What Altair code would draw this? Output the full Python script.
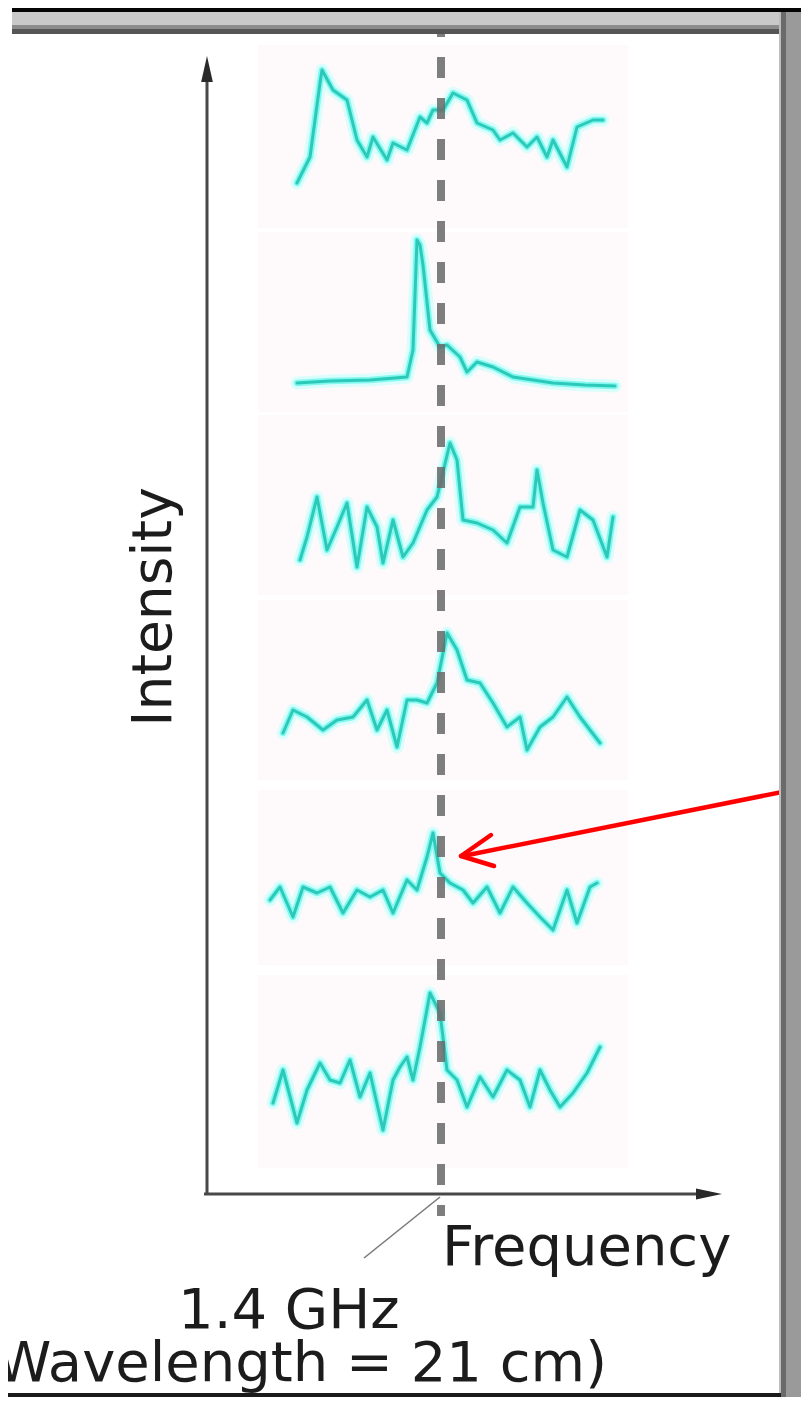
import altair as alt
import pandas as pd

# ---------------- data ----------------
# Frequency offsets (relative to the 1.4 GHz line) and intensities for six spectra
p1_f = [-144,-131,-121,-119,-108,-94,-84,-74,-68,-54,-48,-34,-21,-14,-8,2,12,26,36,52,59,72,86,96,106,112,126,136,152,162]
p1_i = [17,43,117,130,110,100,60,43,63,40,57,50,83,77,90,90,107,100,77,70,60,67,53,63,43,60,33,73,80,80]
p2_f = [-144,-111,-71,-34,-28,-24,-21,-18,-11,-1,6,19,26,36,52,72,112,144,174]
p2_i = [7,9,10,13,40,150,145,125,60,43,45,33,18,28,23,13,7,5,4]
p3_f = [-141,-134,-124,-114,-104,-94,-84,-74,-64,-58,-48,-38,-28,-14,-4,9,16,22,36,52,66,79,92,96,102,112,126,139,152,166,172]
p3_i = [10,33,73,20,43,67,3,63,43,7,50,13,27,60,73,127,110,50,47,40,27,63,63,100,67,20,13,60,50,13,53]
p4_f = [-158,-148,-134,-118,-104,-88,-74,-64,-54,-44,-34,-24,-14,-4,6,16,26,39,52,66,79,86,99,112,126,139,149,159]
p4_i = [27,50,43,30,40,43,60,30,50,13,60,60,57,77,127,110,80,77,57,33,43,10,33,43,63,43,30,17]
p5_f = [-171,-161,-148,-138,-124,-111,-98,-84,-71,-58,-48,-34,-24,-14,-8,-1,9,22,32,46,59,72,86,99,112,126,136,149,156]
p5_i = [40,53,23,53,47,53,27,50,43,50,27,60,50,83,107,67,57,50,37,53,27,53,37,23,10,50,17,53,57]
p6_f = [-168,-158,-144,-134,-121,-111,-101,-91,-81,-71,-58,-48,-41,-34,-28,-21,-11,-1,6,16,26,39,52,66,79,89,99,109,119,132,146,159]
p6_i = [37,70,17,50,77,60,57,80,43,67,10,60,73,83,60,93,147,127,70,60,33,63,43,70,60,33,70,50,33,47,67,93]

spectra_f = [p1_f, p2_f, p3_f, p4_f, p5_f, p6_f]
spectra_i = [p1_i, p2_i, p3_i, p4_i, p5_i, p6_i]
panel_base = [200, 390, 570, 760, 940, 1140]
panel_top = [45, 232, 415, 600, 790, 975]
panel_bot = [228, 412, 595, 780, 965, 1168]

LINE_X = 441  # layout position of the 1.4 GHz line

label_freq = "Frequency"
label_int = "Intensity"
label_ghz = "1.4 GHz"
label_wl = "(Wavelength = 21 cm)"

# ---------------- build tables ----------------
rows = []
for k, (fs, is_) in enumerate(zip(spectra_f, spectra_i)):
    for f, v in zip(fs, is_):
        rows.append({"panel": k, "x": LINE_X + f, "y": panel_base[k] - v})
spec = pd.DataFrame(rows)

bgp = pd.DataFrame({"x": [258]*6, "x2": [628]*6, "y": panel_top, "y2": panel_bot})

xs = alt.Scale(domain=[8, 801], nice=False, zero=False)
ys = alt.Scale(domain=[8, 1397], nice=False, zero=False, reverse=True)

def X(f="x"):
    return alt.X(f"{f}:Q", scale=xs, axis=None)

def Y(f="y"):
    return alt.Y(f"{f}:Q", scale=ys, axis=None)

bg = alt.Chart(bgp).mark_rect(color="#fdf8fb", opacity=0.7).encode(
    x=X(), x2="x2:Q", y=Y(), y2="y2:Q")

halo = alt.Chart(spec).mark_line(color="#d2fffb", strokeWidth=13, opacity=0.8,
                                 strokeJoin="round", strokeCap="round").encode(
    x=X(), y=Y(), detail="panel:N")
mid = alt.Chart(spec).mark_line(color="#66f6ec", strokeWidth=6.5, opacity=0.75,
                                strokeJoin="round", strokeCap="round").encode(
    x=X(), y=Y(), detail="panel:N")
core = alt.Chart(spec).mark_line(color="#2cc9b9", strokeWidth=3,
                                 strokeJoin="round", strokeCap="round").encode(
    x=X(), y=Y(), detail="panel:N")

dash_df = pd.DataFrame({"x": [LINE_X], "y": [16], "y2": [1216]})
dash = alt.Chart(dash_df).mark_rule(color="#6c6c6c", strokeWidth=8,
                                    strokeDash=[21, 20], opacity=0.88).encode(
    x=X(), y=Y(), y2="y2:Q")

segs = pd.DataFrame({
    "x":  [207, 204, 440],
    "y":  [82, 1194, 1197],
    "x2": [207, 712, 364],
    "y2": [1194, 1194, 1258],
    "w":  ["a", "a", "b"],
})
axes_lines = alt.Chart(segs[segs.w == "a"]).mark_rule(color="#484848", strokeWidth=3).encode(
    x=X(), y=Y(), x2="x2:Q", y2="y2:Q")
leader = alt.Chart(segs[segs.w == "b"]).mark_rule(color="#7a7a7a", strokeWidth=1.6).encode(
    x=X(), y=Y(), x2="x2:Q", y2="y2:Q")

up_head = alt.Chart(pd.DataFrame({"x": [207], "y": [69]})).mark_point(
    shape="M0,-1L0.45,1L-0.45,1Z", size=676, filled=True, color="#2a2a2a", opacity=1).encode(
    x=X(), y=Y())
right_head = alt.Chart(pd.DataFrame({"x": [709], "y": [1194]})).mark_point(
    shape="M1,0L-1,-0.42L-1,0.42Z", size=676, filled=True, color="#2a2a2a", opacity=1).encode(
    x=X(), y=Y())

red = pd.DataFrame({
    "x":  [812, 461, 461],
    "y":  [786, 856, 856],
    "x2": [463, 491, 494],
    "y2": [856, 835, 866],
})
red_arrow = alt.Chart(red).mark_rule(color="#ff0000", strokeWidth=4.5, strokeCap="round").encode(
    x=X(), y=Y(), x2="x2:Q", y2="y2:Q")

txt = pd.DataFrame({
    "t": [label_freq, label_ghz],
    "x": [442, 178],
    "y": [1265, 1328],
})
texts_left = alt.Chart(txt).mark_text(font="DejaVu Sans", fontSize=56, color="#1c1c1c",
                                      align="left", baseline="alphabetic").encode(
    x=X(), y=Y(), text="t:N")
wl = alt.Chart(pd.DataFrame({"t": [label_wl], "x": [607], "y": [1381]})).mark_text(
    font="DejaVu Sans", fontSize=56, color="#1c1c1c", align="right", baseline="alphabetic").encode(
    x=X(), y=Y(), text="t:N")
inten = alt.Chart(pd.DataFrame({"t": [label_int], "x": [171], "y": [607]})).mark_text(
    font="DejaVu Sans", fontSize=55, color="#1c1c1c", align="center", baseline="alphabetic",
    angle=270).encode(x=X(), y=Y(), text="t:N")

frame = pd.DataFrame({
    "x":  [12, 12, 12, 12, 779, 781, 786, 8],
    "x2": [801, 779, 779, 779, 781, 786, 801, 781],
    "y":  [8, 12, 25, 29, 12, 12, 12, 1393],
    "y2": [12, 25, 29, 34, 1397, 1397, 1397, 1397],
    "c":  ["#050505", "#c9c9c9", "#8c8c8c", "#555555", "#bdbdbd", "#6a6a6a", "#9a9a9a", "#1a1a1a"],
})
frame_ch = alt.Chart(frame).mark_rect().encode(
    x=X(), x2="x2:Q", y=Y(), y2="y2:Q",
    color=alt.Color("c:N", scale=None))

chart = alt.layer(
    bg, halo, mid, core, dash, axes_lines, leader, up_head, right_head,
    red_arrow, texts_left, wl, inten, frame_ch
).properties(
    width=793, height=1389, padding=0, background="white",
    autosize=alt.AutoSizeParams(type="none")
).configure_view(stroke=None)

chart.save("out.html", embed_options={"renderer": "svg", "actions": False})
